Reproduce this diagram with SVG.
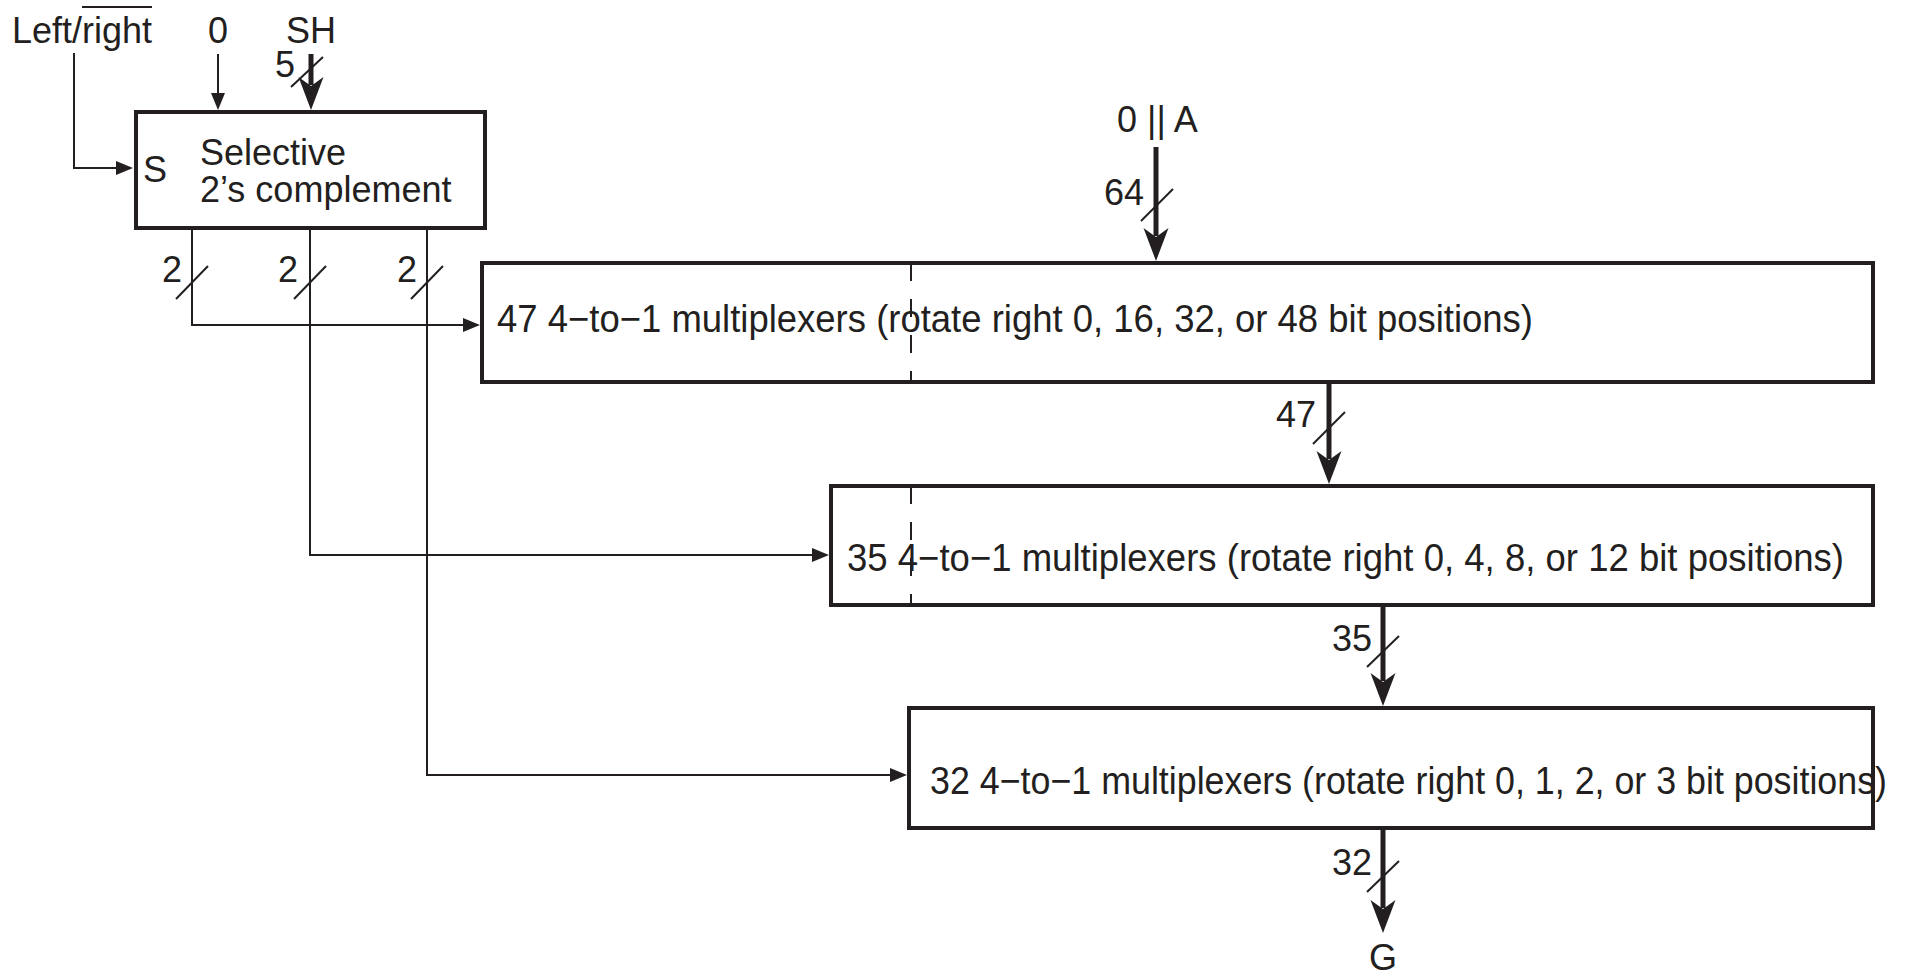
<svg xmlns="http://www.w3.org/2000/svg" width="1911" height="977" viewBox="0 0 1911 977">
  <style>
    text { font-family: "Liberation Sans", Arial, sans-serif; font-size: 36px; fill: #231f20; }
    .mux { font-size: 38px; }
    .box { fill: none; stroke: #231f20; stroke-width: 4; }
    .thin { fill: none; stroke: #231f20; stroke-width: 2; }
    .bus { fill: none; stroke: #231f20; stroke-width: 5; }
    .dash { fill: none; stroke: #231f20; stroke-width: 2; stroke-dasharray: 18 18; }
    .end { text-anchor: end; }
    .mid { text-anchor: middle; }
  </style>
  <defs>
    <marker id="arrowThin" markerUnits="userSpaceOnUse" viewBox="-1 -7 17 14" refX="0" refY="0" markerWidth="17" markerHeight="14" orient="auto">
      <path d="M16,0 L-1,-7 L-1,7 Z" fill="#231f20"/>
    </marker>
    <marker id="arrowBus" markerUnits="userSpaceOnUse" viewBox="-9 -13 35 26" refX="0" refY="0" markerWidth="35" markerHeight="26" orient="auto">
      <path d="M25,0 L-8,-12.5 L1,0 L-8,12.5 Z" fill="#231f20"/>
    </marker>
  </defs>

  <!-- input labels -->
  <g id="inputs">
    <text x="12" y="43">Left/right</text>
    <line class="thin" x1="82" y1="7" x2="152" y2="7"/>
    <text class="mid" x="218" y="43">0</text>
    <text class="mid" x="311" y="43">SH</text>
    <text x="1117" y="132">0 || A</text>
    <text class="mid" x="1383" y="970">G</text>
  </g>

  <!-- selective two's complement block -->
  <g id="complement">
    <rect class="box" x="136" y="112" width="349" height="116"/>
    <text x="143" y="182">S</text>
    <text x="200" y="165">Selective</text>
    <text x="200" y="202">2’s complement</text>
  </g>

  <!-- rotate stage 1 -->
  <g id="mux47">
    <rect class="box" x="482" y="263" width="1391" height="119"/>
    <line class="dash" x1="911" y1="263" x2="911" y2="382"/>
    <text class="mux" x="497" y="332" textLength="1036" lengthAdjust="spacingAndGlyphs">47 4−to−1 multiplexers (rotate right 0, 16, 32, or 48 bit positions)</text>
  </g>

  <!-- rotate stage 2 -->
  <g id="mux35">
    <rect class="box" x="831" y="486" width="1042" height="119"/>
    <line class="dash" x1="911" y1="486" x2="911" y2="605"/>
    <text class="mux" x="847" y="571" textLength="997" lengthAdjust="spacingAndGlyphs">35 4−to−1 multiplexers (rotate right 0, 4, 8, or 12 bit positions)</text>
  </g>

  <!-- rotate stage 3 -->
  <g id="mux32">
    <rect class="box" x="909" y="708" width="964" height="120"/>
    <text class="mux" x="930" y="794" textLength="957" lengthAdjust="spacingAndGlyphs">32 4−to−1 multiplexers (rotate right 0, 1, 2, or 3 bit positions)</text>
  </g>

  <!-- wires and buses -->
  <g id="connectors">
    <path class="thin" d="M74,53 V168 H117" marker-end="url(#arrowThin)"/>
    <path class="thin" d="M218,54 V94" marker-end="url(#arrowThin)"/>
    <path class="bus" d="M311,54 V85" marker-end="url(#arrowBus)"/>
    <line class="thin" x1="291" y1="87" x2="323" y2="57"/>
    <text class="end" x="295" y="77">5</text>

    <path class="thin" d="M192,229 V325 H464" marker-end="url(#arrowThin)"/>
    <path class="thin" d="M310,229 V555 H813" marker-end="url(#arrowThin)"/>
    <path class="thin" d="M427,229 V775 H891" marker-end="url(#arrowThin)"/>
    <line class="thin" x1="176" y1="299" x2="208" y2="266"/>
    <line class="thin" x1="294" y1="299" x2="326" y2="266"/>
    <line class="thin" x1="411" y1="299" x2="443" y2="266"/>
    <text class="end" x="182" y="282">2</text>
    <text class="end" x="298" y="282">2</text>
    <text class="end" x="417" y="282">2</text>

    <path class="bus" d="M1156,147 V236" marker-end="url(#arrowBus)"/>
    <line class="thin" x1="1141" y1="221" x2="1173" y2="189"/>
    <text class="end" x="1144" y="205">64</text>

    <path class="bus" d="M1329,382 V459" marker-end="url(#arrowBus)"/>
    <line class="thin" x1="1313" y1="444" x2="1345" y2="412"/>
    <text class="end" x="1316" y="427">47</text>

    <path class="bus" d="M1383,605 V681" marker-end="url(#arrowBus)"/>
    <line class="thin" x1="1367" y1="667" x2="1399" y2="636"/>
    <text class="end" x="1372" y="651">35</text>

    <path class="bus" d="M1383,828 V908" marker-end="url(#arrowBus)"/>
    <line class="thin" x1="1367" y1="892" x2="1399" y2="861"/>
    <text class="end" x="1372" y="875">32</text>
  </g>
</svg>
